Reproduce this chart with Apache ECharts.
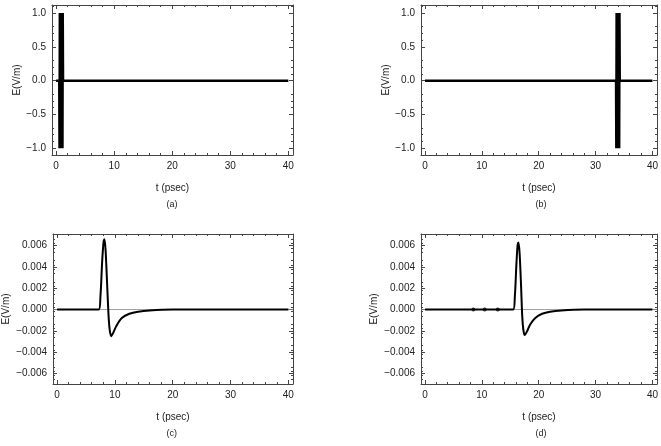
<!DOCTYPE html>
<html lang="en">
<head>
  <meta charset="UTF-8" />
  <title>E-field pulses</title>
  <script src="https://cdn.jsdelivr.net/npm/echarts@6/dist/echarts.min.js"></script>
  <style>
    body { margin: 0; background: #fff; }
    #chart { width: 661px; height: 446px; }
  </style>
</head>
<body>
  <div id="chart"></div>
  <script>
    // panel (a): fast oscillating pulse near t = 0.9 ps, then flat
    const seriesA = [[0, 0], [0.55, 0], [0.6, -1], [0.65, 1], [0.7, -1], [0.75, 1], [0.8, -1], [0.85, 1],
      [0.9, -1], [0.95, 1], [1.0, -1], [1.05, 1], [1.1, -1], [1.15, 1], [1.2, 0], [40, 0]];
    // panel (b): same pulse arriving at t = 34 ps
    const seriesB = [[0, 0], [33.6, 0], [33.65, -1], [33.7, 1], [33.75, -1], [33.8, 1], [33.85, -1], [33.9, 1],
      [33.95, -1], [34.0, 1], [34.05, -1], [34.1, 1], [34.15, -1], [34.2, 1], [34.25, 0], [40, 0]];
    // panel (c): filtered pulse
    const seriesC = [[0, 0], [7.2, 0], [7.5, 0.0012], [7.8, 0.0045], [8.05, 0.0064], [8.2, 0.0066], [8.4, 0.0055],
      [8.65, 0.0025], [8.9, -0.0005], [9.1, -0.0019], [9.35, -0.0025], [9.7, -0.0022], [10.3, -0.0015],
      [11.2, -0.0008], [12.5, -0.0004], [14, -0.0002], [16, -0.00008], [20, 0], [40, 0]];
    // panel (d): later pulse
    const seriesD = [[0, 0], [15.5, 0], [15.8, 0.0012], [16.1, 0.0045], [16.3, 0.0061], [16.45, 0.0063], [16.65, 0.0052],
      [16.9, 0.0022], [17.1, -0.0006], [17.3, -0.0019], [17.55, -0.0024], [17.9, -0.0021], [18.5, -0.0014],
      [19.4, -0.0008], [20.6, -0.0004], [22, -0.0002], [24, -0.00008], [28, 0], [40, 0]];
    const dotsD = [[8.5, 0], [10.5, 0], [12.8, 0]];
    const yTicksA = [-1.0, -0.5, 0.0, 0.5, 1.0];
    const yTicksC = [-0.006, -0.004, -0.002, 0.000, 0.002, 0.004, 0.006];
    const captions = ['(a)', '(b)', '(c)', '(d)'];

    const font = 'Liberation Sans, Arial, sans-serif';
    const panels = [
      { left: 52, top: 5, data: seriesA, ymin: -1.1, ymax: 1.12, dec: 1 },
      { left: 421, top: 5, data: seriesB, ymin: -1.1, ymax: 1.12, dec: 1 },
      { left: 52, top: 234, data: seriesC, ymin: -0.007, ymax: 0.0071, dec: 3 },
      { left: 421, top: 234, data: seriesD, ymin: -0.007, ymax: 0.0071, dec: 3 }
    ];
    const W = 241, H = 150;

    const grid = [], xAxis = [], yAxis = [], series = [], graphic = [];
    panels.forEach((p, i) => {
      grid.push({ left: p.left, top: p.top, width: W, height: H });
      const base = {
        gridIndex: i, type: 'value', min: -0.7, max: 40.8, splitLine: { show: false },
        axisLine: { show: true, onZero: false, lineStyle: { color: '#444', width: 1 } },
        axisTick: { inside: true, length: 4, lineStyle: { color: '#444' } },
        minorTick: { show: true, splitNumber: 5, length: 2, lineStyle: { color: '#444' } }
      };
      xAxis.push(Object.assign({}, base, {
        position: 'bottom',
        axisLabel: { color: '#222', fontSize: 10, fontFamily: font, showMinLabel: false, showMaxLabel: false, margin: 6 },
        name: 't (psec)', nameLocation: 'middle', nameGap: 28,
        nameTextStyle: { color: '#222', fontSize: 10, fontFamily: font }
      }));
      xAxis.push(Object.assign({}, base, { position: 'top', axisLabel: { show: false } }));
      const ticks = i < 2 ? yTicksA : yTicksC;
      const ybase = {
        gridIndex: i, type: 'value', min: p.ymin, max: p.ymax, interval: ticks[1] - ticks[0],
        splitLine: { show: false },
        axisLine: { show: true, onZero: false, lineStyle: { color: '#444', width: 1 } },
        axisTick: { inside: true, length: 4, lineStyle: { color: '#444' }, customValues: ticks },
        minorTick: { show: true, splitNumber: 5, length: 2, lineStyle: { color: '#444' } }
      };
      yAxis.push(Object.assign({}, ybase, {
        position: 'left',
        axisLabel: {
          color: '#222', fontSize: 10, fontFamily: font, margin: 6, customValues: ticks,
          formatter: v => (v < 0 ? '\u2212' : '') + Math.abs(v).toFixed(p.dec)
        },
        name: 'E(V/m)', nameLocation: 'middle', nameGap: i < 2 ? 30 : 42, nameRotate: 90,
        nameTextStyle: { color: '#222', fontSize: 10, fontFamily: font }
      }));
      yAxis.push(Object.assign({}, ybase, { position: 'right', axisLabel: { show: false } }));

      if (i >= 2) {
        series.push({
          type: 'line', xAxisIndex: 2 * i, yAxisIndex: 2 * i, data: [[-0.7, 0], [40.8, 0]],
          symbol: 'none', lineStyle: { color: '#888', width: 0.8 }, silent: true
        });
      }
      series.push({
        type: 'line', xAxisIndex: 2 * i, yAxisIndex: 2 * i, data: p.data, symbol: 'none',
        smooth: i >= 2 ? 0.3 : false,
        lineStyle: { color: '#000', width: i < 2 ? 2.5 : 2 }
      });
      graphic.push({
        type: 'text', left: p.left + W / 2 - 6, top: p.top + H + 45,
        style: { text: captions[i], fill: '#222', font: '9px ' + font }
      });
    });
    series.push({
      type: 'scatter', xAxisIndex: 6, yAxisIndex: 6, data: dotsD, symbolSize: 4,
      itemStyle: { color: '#000' }
    });

    const chart = echarts.init(document.getElementById('chart'));
    chart.setOption({ animation: false, grid, xAxis, yAxis, series, graphic });
  </script>
</body>
</html>
